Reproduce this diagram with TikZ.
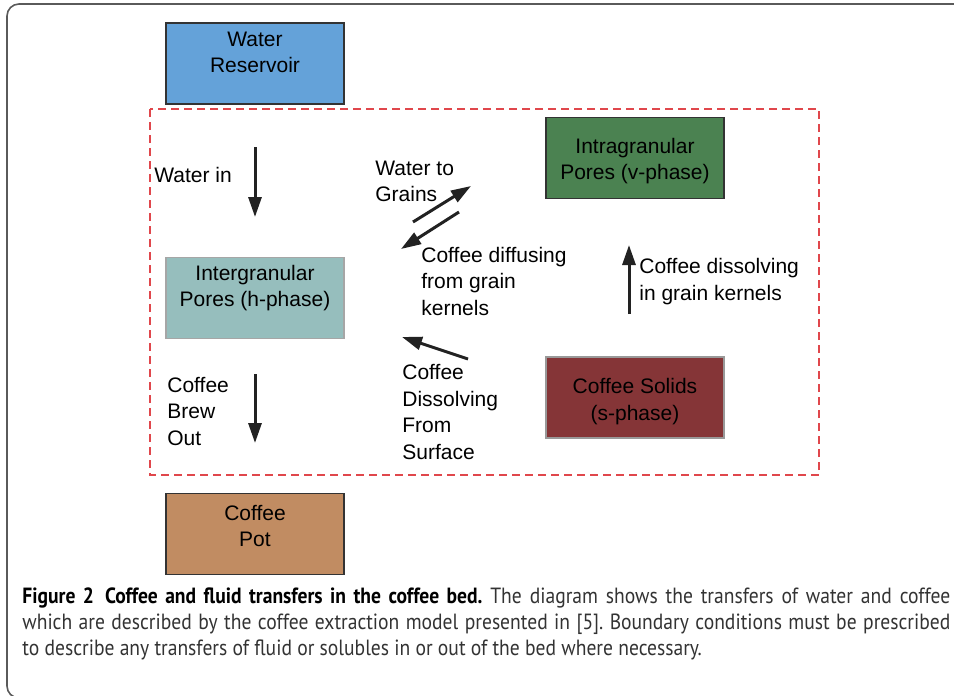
\documentclass[tikz,border=0pt]{standalone}
\usepackage{fontspec}
\setmainfont{Liberation Sans}
\newfontfamily\captionfont[FakeStretch=0.89]{PT Sans}
\usepackage{xcolor}
\usepackage{tikz}
\usetikzlibrary{arrows.meta, positioning}
\definecolor{reservoirBlue}{HTML}{64A2D9}
\definecolor{interTeal}{HTML}{96BEBD}
\definecolor{intraGreen}{HTML}{4B8251}
\definecolor{solidsRed}{HTML}{853537}
\definecolor{potBrown}{HTML}{C18C62}
\definecolor{boundaryRed}{HTML}{E0474C}
\definecolor{arrowDark}{HTML}{222222}
\definecolor{frameGray}{HTML}{5A5A5A}
\definecolor{captionGray}{HTML}{333333}

\begin{document}
\begin{tikzpicture}[
    x=0.5pt, y=-0.5pt,
    font=\fontsize{10.5}{13.25}\selectfont,
    box/.style={rectangle, draw=black!80, line width=0.7pt, fill=#1, minimum width=89pt, minimum height=40.5pt, align=center, inner sep=0pt},
    boxtext/.style={align=center, inner sep=0pt},
    flow/.style={-{Triangle[length=10pt, width=6.5pt]}, line width=1.5pt, draw=arrowDark},
    flowtext/.style={align=left, anchor=west, inner sep=0pt}
]
\clip (0,0) rectangle (954,696);

% Outer frame
\draw[frameGray, line width=0.8pt, rounded corners=6pt] (7,4) rectangle (990,698);

% Coffee bed boundary
\draw[boundaryRed, line width=0.8pt, dash pattern=on 4pt off 2.5pt] (150,109) rectangle (819,475);

% Sources and sinks outside the bed
\node[box=reservoirBlue] (reservoir) at (255,63.5) {};
\node[boxtext] at ([yshift=5.5pt]reservoir) {Water\\Reservoir};
\node[box=potBrown] (pot) at (255,534) {};
\node[boxtext] at ([yshift=4pt]pot) {Coffee\\Pot};

% Phases inside the bed
\node[box=interTeal, draw=gray!70] (inter) at (255,298) {};
\node[boxtext] at ([yshift=5pt]inter) {Intergranular\\Pores (h-phase)};
\node[box=intraGreen] (intra) at (635,158) {};
\node[boxtext] at ([yshift=-1.5pt]intra) {Intragranular\\Pores (v-phase)};
\node[box=solidsRed, draw=gray!80] (solids) at (635,397.5) {};
\node[boxtext] at ([yshift=-2pt]solids) {Coffee Solids\\(s-phase)};

% Arrow end points
\coordinate (waterInStart) at (255,147);
\coordinate (waterInEnd) at (255,217);
\coordinate (waterToStart) at (413,222);
\coordinate (waterToEnd) at (471,186);
\coordinate (diffuseStart) at (459,212);
\coordinate (diffuseEnd) at (401,249);
\coordinate (dissolveStart) at (629,314);
\coordinate (dissolveEnd) at (629,245);
\coordinate (surfaceStart) at (468,359);
\coordinate (surfaceEnd) at (402,337);
\coordinate (brewStart) at (255,374);
\coordinate (brewEnd) at (255,443);

% Arrows
\draw[flow] (waterInStart) -- (waterInEnd);
\draw[flow] (waterToStart) -- (waterToEnd);
\draw[flow] (diffuseStart) -- (diffuseEnd);
\draw[flow] (dissolveStart) -- (dissolveEnd);
\draw[flow] (surfaceStart) -- (surfaceEnd);
\draw[flow] (brewStart) -- (brewEnd);

% Arrow labels
\node[flowtext] (waterInText) at (154,175) {Water in};
\node[flowtext] (waterToText) at (375,181.5) {Water to\\Grains};
\node[flowtext] (diffuseText) at (421,281) {Coffee diffusing\\from grain\\kernels};
\node[flowtext] (dissolveText) at (639,281.5) {Coffee dissolving\\in grain kernels};
\node[flowtext] (surfaceText) at (402,412) {Coffee\\Dissolving\\From\\Surface};
\node[flowtext] (brewText) at (167,411.5) {Coffee\\Brew\\Out};

% Caption
\node[anchor=west, align=justify, text width=464pt, inner sep=0pt, text=captionGray, font=\captionfont\fontsize{11}{13}\selectfont\frenchspacing] (caption) at (22,624)
  {\textcolor{black}{\bfseries Figure 2\enspace Coffee and fluid transfers in the coffee bed.} The diagram shows the transfers of water and coffee\linebreak
   which are described by the coffee extraction model presented in [5]. Boundary conditions must be prescribed\linebreak
   to describe any transfers of fluid or solubles in or out of the bed where necessary.};

\end{tikzpicture}
\end{document}
